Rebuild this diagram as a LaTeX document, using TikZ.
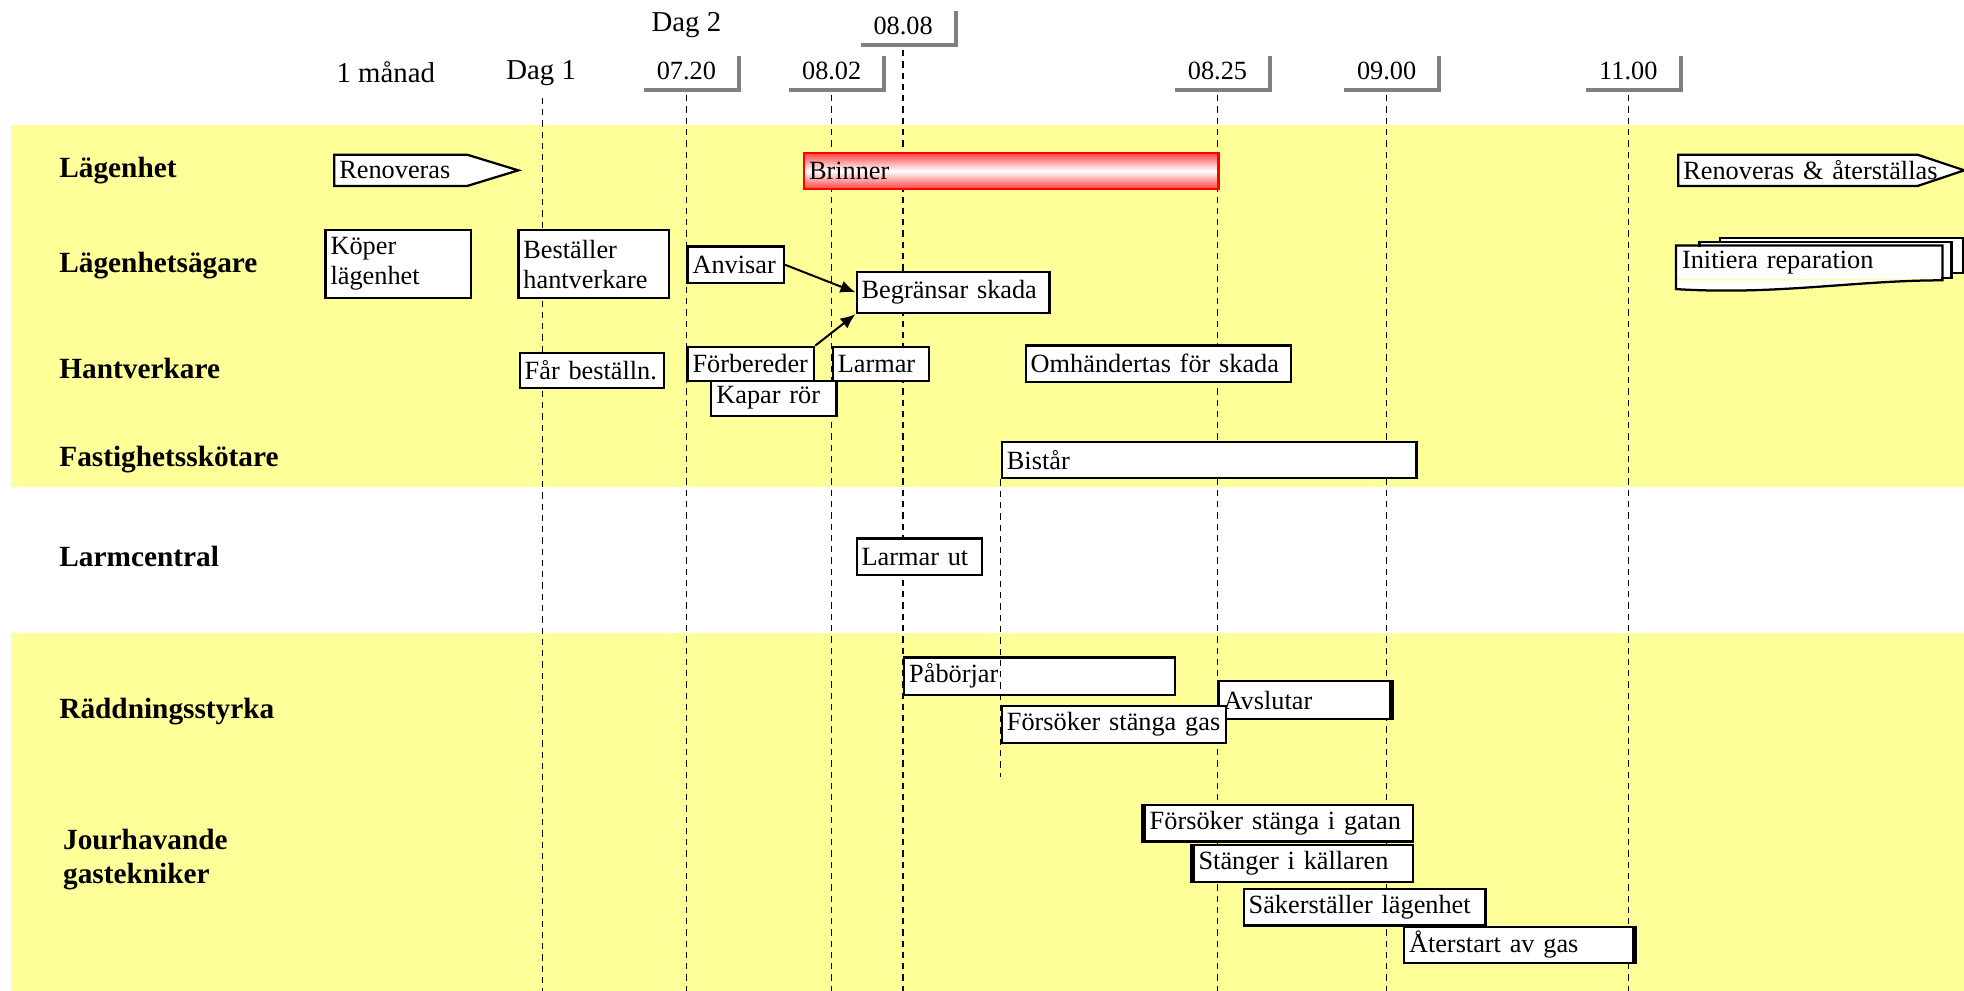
\documentclass[tikz,border=0pt]{standalone}
\usepackage{fontspec}
\setmainfont{Liberation Serif}
\usetikzlibrary{shapes.symbols,arrows.meta}
\definecolor{band}{rgb}{1,1,.6}
\definecolor{stampgray}{rgb}{.5,.5,.5}

\begin{document}
\begin{tikzpicture}
  [x=.5pt, y=-.5pt, font=\fontsize{10.5}{12}\selectfont,
   act/.style={draw, fill=white, line width=.9pt, anchor=north west,
     inner xsep=2pt, inner ysep=0pt, align=left},
   role/.style={anchor=west, align=left, inner sep=0pt,
     font=\fontsize{11.7}{13.5}\selectfont\bfseries},
   head/.style={font=\fontsize{11.5}{13}\selectfont},
   tline/.style={dash pattern=on 2.5pt off 2pt, line width=.5pt},
   stampline/.style={stampgray, line width=1.5pt},
   bar/.style={line width=2pt},
   arr/.style={-{Latex[length=6pt,width=5pt]}, line width=.8pt}]
  \useasboundingbox (0,0) rectangle (1568,791);
  \fill[band] (9,100) rectangle (1568,389);
  \fill[band] (9,505) rectangle (1568,791);

  \node[head] (mon) at (308,58) {1 månad};
  \node[head] (d1) at (432,58) {Dag 1};
  \node[head] (d2) at (548,20) {Dag 2};
  \coordinate (bd1) at (433,791);
  \draw[tline] (d1) ++(1,20) -- (bd1);
  \foreach \n/\x/\y/\lbl in {0720/548/57/07.20, 0802/664/57/08.02,
      0808/721/21/08.08, 0825/972/57/08.25, 0900/1107/57/09.00,
      1100/1300/57/11.00}{
    \node (t\n) at (\x,\y) {\lbl};
    \coordinate (b\n) at (\x,791);
    \draw[stampline] (\x-34,\y+15) -- ++(76,0) -- ++(0,-27);
    \draw[tline] (t\n) ++(0,19) -- (b\n);}

  \foreach \nm/\y/\lbl in {lgh/136/Lägenhet, aga/212/Lägenhetsägare,
      hant/294/Hantverkare, fast/367/Fastighetsskötare,
      lc/444/Larmcentral, rs/568/Räddningsstyrka}{
    \node[role] (r\nm) at (47,\y) {\lbl};}
  \node[role] (rgas) at (50,686) {Jourhavande\\gastekniker};

  \node[act, signal, signal to=east, signal pointer angle=34, anchor=west,
    text width=49pt, minimum height=12.5pt] (ren) at (266,136) {Renoveras};
  \node[act, signal, signal to=east, signal pointer angle=37, anchor=west,
    text width=91.5pt, minimum height=12.5pt] (aterst) at (1339,136)
    {\mbox{Renoveras \& återställas}};
  \node[act, draw=red, top color=red!75, bottom color=red!75,
    middle color=white, text width=161.5pt, minimum height=14.5pt]
    (brin) at (641,121) {Brinner};

  \node[act, minimum width=97pt, minimum height=14pt] (init3) at (1372,189) {};
  \node[act, minimum width=100.5pt, minimum height=14.25pt] (init2) at (1356,192.5) {};
  \node[act, draw=none, text width=101.5pt, minimum height=13pt] (init)
    at (1338,196) {Initiera reparation};
  \fill[white] (init.south east) .. controls +(-70,0) and +(80,5)
    .. ([yshift=-3.5pt]init.south west) -- (init.south west) -- cycle;
  \draw[line width=.9pt] (init.south west) -- (init.north west)
    -- (init.north east) -- (init.south east) .. controls +(-70,0) and +(80,5)
    .. ([yshift=-3.5pt]init.south west) -- cycle;

  \foreach \nm/\x/\y/\w/\h/\txt in {kop/259/183/116/54/{Köper\\lägenhet},
      best/413/183/120/54/{Beställer\\hantverkare}, anv/548/196/77/29/Anvisar,
      begr/683/216/154/33/Begränsar skada, far/414/281/115/28/Får beställn.,
      kap/567/303/100/28/Kapar rör, forb/548/276/101/27/Förbereder,
      larm/664/276/77/27/Larmar, omh/818/275/212/29/Omhändertas för skada,
      bist/799/352/331/29/Bistår, lut/683/429/100/29/Larmar ut,
      pab/721/524/216/30/Påbörjar, avsl/972/543/137/30/Avslutar,
      fsg/799/563/179/29/Försöker stänga gas,
      gata/913/642/214/29/Försöker stänga i gatan,
      kall/952/674/175/29/Stänger i källaren,
      sak/992/709/193/29/Säkerställer lägenhet,
      start/1120/739/183/29/Återstart av gas}{
    \pgfmathsetmacro\tw{\w/2-4}
    \node[act, text width=\tw pt, minimum height=\h*.5pt] (\nm) at (\x,\y) {\txt};}

  \foreach \nm/\s in {avsl/east, gata/west, kall/west, start/east}{
    \draw[bar] (\nm.north \s) -- (\nm.south \s);}

  \coordinate (bbist) at (799,620);
  \draw[tline] (bist.south west) -- (bbist);

  \draw[arr] (anv.east) -- (begr.west);
  \draw[arr] (forb.north east) -- (begr.south west);
\end{tikzpicture}
\end{document}
